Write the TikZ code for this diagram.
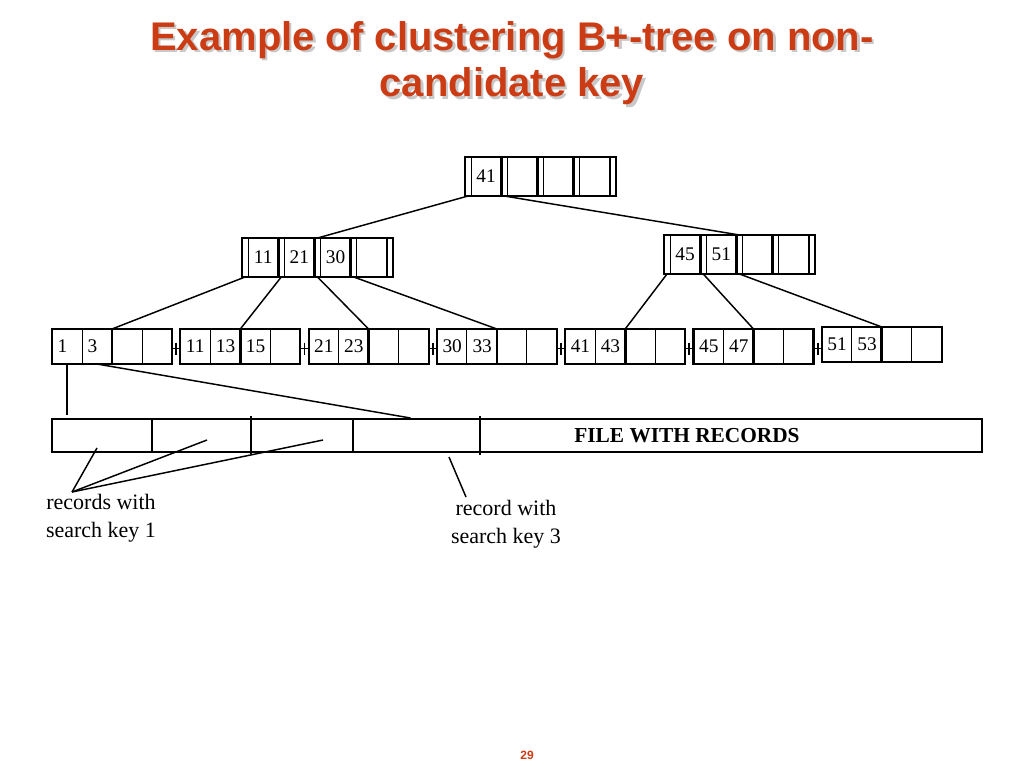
\documentclass[tikz,border=0pt]{standalone}
\usepackage{fontspec}
\setmainfont{Liberation Serif}
\newfontfamily\titlefont{Liberation Sans}
\usetikzlibrary{calc}
\definecolor{titlered}{RGB}{204,60,20}
\definecolor{shadowgray}{RGB}{200,200,200}
\begin{document}
\begin{tikzpicture}[x=0.75pt,y=-0.75pt,
  inode/.style={draw, line width=1.5pt, inner sep=0pt, outer sep=0pt, minimum width=113.25pt, minimum height=29.25pt},
  kcell/.style={draw, line width=0.75pt, inner sep=0pt, outer sep=0pt, minimum width=22.69pt, minimum height=29.25pt, font=\fontsize{14.5}{16}\selectfont},
  keybar/.style={line width=2.2pt},
  leafbox/.style={draw, line width=1.6pt, inner sep=0pt, outer sep=0pt, minimum width=90pt, minimum height=26.25pt},
  lcell/.style={draw, line width=0.75pt, inner ysep=0pt, inner xsep=4.2pt, outer sep=0pt, text width=14.1pt, align=left, minimum height=26.25pt, font=\fontsize{14.5}{16}\selectfont},
  midbar/.style={line width=2pt},
  chainline/.style={line width=1.3pt},
  conn/.style={line width=1.1pt},
  filebox/.style={draw, line width=1.5pt, inner sep=0pt, outer sep=0pt},
  recslot/.style={inner sep=0pt, outer sep=0pt, minimum height=24.75pt},
  divider/.style={line width=1pt},
  lbl/.style={align=center, font=\fontsize{16.5}{21}\selectfont},
  titletext/.style={align=center, font=\titlefont\bfseries\fontsize{30}{35}\selectfont}
]
\useasboundingbox (0,0) rectangle (1024,768);

% title
\node[titletext, text=shadowgray] (titleshadow) at (514.5,65.5) {Example of clustering B+-tree on non-\\candidate key};
\node[titletext, text=titlered] (title) at (512,63) {Example of clustering B+-tree on non-\\candidate key};

% root node
\foreach \i/\t in {1/41,2/{},3/{},4/{}}
  \node[kcell, anchor=west] (r\i) at ({471+(\i-1)*36.25},176.5) {\t};
\foreach \i in {1,...,4} \draw[keybar] (r\i.north east) -- (r\i.south east);
\node[inode, anchor=west] (root) at (465,176.5) {};

% left internal node
\foreach \i/\t in {1/11,2/21,3/30,4/{}}
  \node[kcell, anchor=west] (a\i) at ({248+(\i-1)*36.25},257.5) {\t};
\foreach \i in {1,...,4} \draw[keybar] (a\i.north east) -- (a\i.south east);
\node[inode, anchor=west] (na) at (242,257.5) {};

% right internal node
\foreach \i/\t in {1/45,2/51,3/{},4/{}}
  \node[kcell, anchor=west] (b\i) at ({670+(\i-1)*36.25},254.5) {\t};
\foreach \i in {1,...,4} \draw[keybar] (b\i.north east) -- (b\i.south east);
\node[inode, anchor=west] (nb) at (664,254.5) {};

% leaves
\foreach \k/\y/\a/\b/\c in {1/346.5/1/3/{},2/346.5/11/13/15,3/346.5/21/23/{},4/346.5/30/33/{},5/346.5/41/43/{},6/346.5/45/47/{},7/344.5/51/53/{}}{
  \node[lcell, anchor=west] (l\k-1) at ({52+128.3*(\k-1)},\y) {\a};
  \node[lcell, anchor=west] (l\k-2) at (l\k-1.east) {\b};
  \node[lcell, anchor=west] (l\k-3) at (l\k-2.east) {\c};
  \node[lcell, anchor=west] (l\k-4) at (l\k-3.east) {};
  \draw[midbar] (l\k-2.north east) -- (l\k-2.south east);
  \node[leafbox, anchor=west] (l\k) at ({52+128.3*(\k-1)},\y) {};
}

% leaf chain pointers
\foreach \k in {1,...,6}{
  \pgfmathtruncatemacro{\n}{\k+1}
  \coordinate (cs\k) at ($(l\k.east)+(0,2)$);
  \coordinate (ce\k) at (cs\k -| l\n.west);
  \coordinate (cm\k) at ($(cs\k)!0.5!(ce\k)$);
  \draw[chainline] (cs\k) -- (ce\k);
  \draw[chainline] ($(cm\k)+(0,-6)$) -- ($(cm\k)+(0,6)$);
}

% root -> internal
\draw[conn] ($(root.south west)!0.5!(r1.south west)$) -- ($(a2.north east)!0.5!(a3.north west)$);
\draw[conn] ($(r1.south east)!0.5!(r2.south west)$) -- ($(b2.north east)!0.5!(b3.north west)$);

% left internal -> leaves
\draw[conn] ($(na.south west)!0.5!(a1.south west)$) -- (l1-2.north east);
\draw[conn] ($(a1.south east)!0.5!(a2.south west)$) -- (l2-2.north east);
\draw[conn] ($(a2.south east)!0.5!(a3.south west)$) -- (l3-2.north east);
\draw[conn] ($(a3.south east)!0.5!(a4.south west)$) -- (l4-2.north east);

% right internal -> leaves
\draw[conn] ($(nb.south west)!0.5!(b1.south west)$) -- (l5-2.north east);
\draw[conn] ($(b1.south east)!0.5!(b2.south west)$) -- (l6-2.north east);
\draw[conn] ($(b2.south east)!0.5!(b3.south west)$) -- (l7-2.north east);

% file with records
\node[filebox, anchor=north west, minimum width=697.5pt, minimum height=24.75pt] (file) at (52,419) {};
\node[recslot, anchor=north west, minimum width=75pt] (rec1) at (52,419) {};
\node[recslot, anchor=west, minimum width=74.25pt] (rec2) at (rec1.east) {};
\node[recslot, anchor=west, minimum width=76.5pt] (rec3) at (rec2.east) {};
\node[recslot, anchor=west, minimum width=95.25pt] (rec4) at (rec3.east) {};
\draw[divider] (rec1.north east) -- (rec1.south east);
\draw[divider] ($(rec2.north east)+(0,-3)$) -- ($(rec2.south east)+(0,2)$);
\draw[divider] (rec3.north east) -- (rec3.south east);
\draw[divider] ($(rec4.north east)+(0,-3)$) -- ($(rec4.south east)+(0,3)$);
\node[font=\bfseries\fontsize{16}{18}\selectfont] (filetext) at (687,435.5) {FILE WITH RECORDS};

% leaf 1 -> records
\draw[conn] (l1-1.south) -- ($(l1-1.south |- rec1.north)+(0,-4)$);
\draw[conn] (l1-2.south) -- ($(rec4.north)+(-6,-1)$);

% labels
\node[lbl] (lab1) at (101,518) {records with\\search key 1};
\node[lbl] (lab3) at (506,524) {record with\\search key 3};
\coordinate (k1) at (72,492);
\draw[conn] (k1) -- ($(rec1.south west)+(45,-4)$);
\draw[conn] (k1) -- ($(rec2.south west)+(55,-12)$);
\draw[conn] (k1) -- ($(rec3.south west)+(72,-12)$);
\coordinate (k3) at (466,497);
\draw[conn] (k3) -- ($(rec4.south west)+(96,5)$);

% page number
\node[font=\titlefont\bfseries\fontsize{9}{10}\selectfont, text=titlered] (pageno) at (527,755) {29};
\end{tikzpicture}
\end{document}
